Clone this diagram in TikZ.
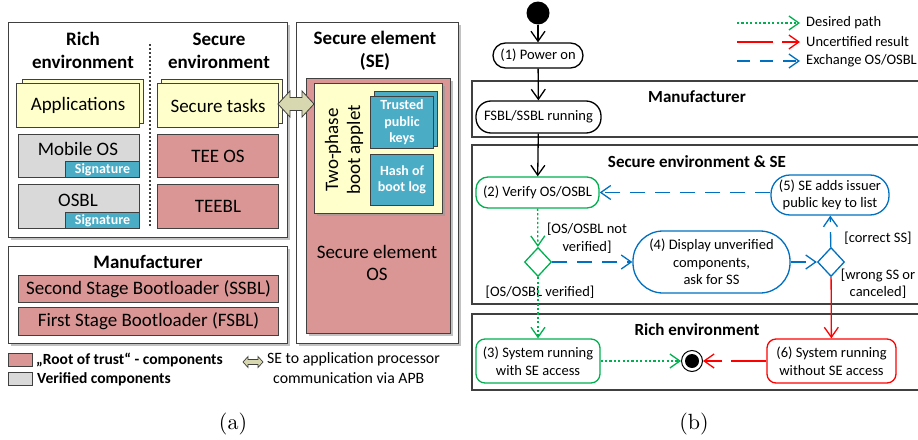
\documentclass[tikz,border=0pt]{standalone}
\usepackage{fontspec}
\setmainfont{Carlito}
\newfontfamily\lmfont[Extension=.otf]{lmroman10-regular}
\usetikzlibrary{arrows.meta,shadows,shapes.geometric}
\definecolor{pinkR}{HTML}{D99694}
\definecolor{tealB}{HTML}{4BACC6}
\definecolor{yel}{HTML}{FFFFCC}
\definecolor{grayV}{HTML}{D9D9D9}
\definecolor{bord}{HTML}{404040}
\definecolor{apb}{HTML}{D8D8B0}
\definecolor{gr}{HTML}{00B050}
\definecolor{rd}{HTML}{FF0000}
\definecolor{bl}{HTML}{0070C0}
\tikzset{
  shd/.style={drop shadow={shadow xshift=2pt,shadow yshift=-2pt,fill=black!40,opacity=0.6}},
  outer/.style={draw=bord,line width=1pt,fill=white,shd,anchor=north west,inner sep=0},
  abox/.style={draw=bord,line width=1pt,anchor=north west,inner sep=0,font=\fontsize{19}{22}\selectfont,align=center},
  yelbox/.style={abox,fill=yel},
  pinkbox/.style={abox,fill=pinkR},
  graybox/.style={abox,fill=grayV},
  tealbox/.style={abox,fill=tealB,text=white,font=\bfseries\fontsize{14}{16.5}\selectfont},
  atitle/.style={font=\bfseries\fontsize{19}{23}\selectfont,align=center},
  atext/.style={font=\fontsize{19}{22}\selectfont,align=center},
  state/.style={draw,line width=1.3pt,align=center,inner sep=0,font=\fontsize{14.5}{17.5}\selectfont},
  lane/.style={draw=bord,line width=1.4pt},
  lanetitle/.style={font=\bfseries\fontsize{17}{20}\selectfont},
  lbl/.style={font=\fontsize{14.5}{17.5}\selectfont,align=center},
  tip/.style={-{Straight Barb[length=10pt,width=14pt]}},
  flow/.style={tip,line width=1.3pt},
  gflow/.style={tip,line width=1.3pt,gr,dash pattern=on 2.2pt off 2.2pt},
  bflow/.style={tip,line width=1.3pt,bl,dash pattern=on 15pt off 10pt},
  rflow/.style={tip,line width=1.3pt,rd},
  rdflow/.style={tip,line width=1.3pt,rd,dash pattern=on 35pt off 9pt},
}
\begin{document}
\begin{tikzpicture}[x=1pt,y=-1pt]
\useasboundingbox (0,0) rectangle (918,439);
% ---------------- panel (a)
\node[outer,minimum width=279,minimum height=215] (richbox) at (8,22) {};
\node[outer,minimum width=279,minimum height=97] (manbox) at (8,246) {};
\node[outer,minimum width=162,minimum height=321] (sebox) at (296,22) {};
\node[atitle] (richt) at (83,50.5) {Rich\\environment};
\node[atitle] (sect) at (219,50.5) {Secure\\environment};
\draw[bord,line width=2pt,dash pattern=on 2pt off 2pt] (150,44) -- (150,227);
\node[yelbox,minimum width=121,minimum height=44] (appsb) at (22,79) {};
\node[yelbox,minimum width=123,minimum height=44] (apps) at (16,83) {Applications};
\node[yelbox,minimum width=121,minimum height=44] (stb) at (161,79) {};
\node[yelbox,minimum width=121,minimum height=44] (st) at (157,83) {Secure tasks};
\node[graybox,minimum width=121,minimum height=43] (mos) at (18,134) {};
\node[atext] (most) at (78,149) {Mobile OS};
\node[tealbox,minimum width=74,minimum height=16,anchor=south east] (sig1) at (mos.south east) {Signature};
\node[graybox,minimum width=121,minimum height=44] (osbl) at (18,184) {};
\node[atext] (osblt) at (78,200) {OSBL};
\node[tealbox,minimum width=74,minimum height=16,anchor=south east] (sig2) at (osbl.south east) {Signature};
\node[pinkbox,minimum width=121,minimum height=43] (teeos) at (157,134) {TEE OS};
\node[pinkbox,minimum width=121,minimum height=44] (teebl) at (157,184) {TEEBL};
\node[atitle] (mant) at (148,262) {Manufacturer};
\node[pinkbox,minimum width=260,minimum height=27] (ssbl) at (18,275) {Second Stage Bootloader (SSBL)};
\node[pinkbox,minimum width=260,minimum height=28] (fsbl) at (18,307) {First Stage Bootloader (FSBL)};
\node[atitle] (set) at (375,50.5) {Secure element\\(SE)};
\node[pinkbox,shd,minimum width=144,minimum height=255] (seos) at (306,78) {};
\node[atext] (seost) at (377,263) {Secure element\\OS};
\node[yelbox,shd,minimum width=128,minimum height=130] (applet) at (314,83) {};
\node[atext,rotate=90] (applett) at (344,150) {Two-phase\\boot applet};
\node[tealbox,minimum width=63,minimum height=55] (tpkb) at (374,91) {};
\node[tealbox,minimum width=63,minimum height=52] (tpk) at (370,96) {Trusted\\public\\keys};
\node[tealbox,minimum width=63,minimum height=51] (hash) at (370,154) {Hash of\\boot log};
% APB arrow
\draw[bord,fill=apb,line width=0.8pt,line join=miter] (278,104) -- (290,91) -- (290,97.5) -- (302,97.5) -- (302,91) -- (314,104) -- (302,117) -- (302,110.5) -- (290,110.5) -- (290,117) -- cycle;
% legend (a)
\node[draw=bord,fill=pinkR,line width=0.8pt,minimum width=24,minimum height=13,inner sep=0,anchor=north west] (lg1) at (8,353) {};
\node[draw=bord,fill=grayV,line width=0.8pt,minimum width=24,minimum height=13,inner sep=0,anchor=north west] (lg2) at (8,372) {};
\node[anchor=west,inner sep=0,font=\bfseries\fontsize{15.5}{18}\selectfont] (lg1t) at (36,360) {„Root of trust“ - components};
\node[anchor=west,inner sep=0,font=\bfseries\fontsize{15.5}{18}\selectfont] (lg2t) at (37,379) {Verified components};
\draw[bord,fill=apb,line width=0.7pt,line join=miter] (243,362) -- (248,356.5) -- (248,359.5) -- (258,359.5) -- (258,356.5) -- (263,362) -- (258,367.5) -- (258,364.5) -- (248,364.5) -- (248,367.5) -- cycle;
\node[anchor=north west,inner sep=0,align=left,font=\fontsize{15.8}{20}\selectfont] (lg3t) at (267,352) {SE to application processor\\\hspace*{6pt}communication via APB};
\node[font=\lmfont\fontsize{22}{24}\selectfont] (la) at (233,424) {(a)};
% ---------------- panel (b)
\draw[lane] (920,81) -| (472,137) -- (920,137);
\draw[lane] (920,145) -| (472,304) -- (920,304);
\draw[lane] (920,314) -| (472,390) -- (920,390);
\node[lanetitle] (l1) at (697,97) {Manufacturer};
\node[lanetitle] (l2) at (697,162) {Secure environment \& SE};
\node[lanetitle] (l3) at (697,330) {Rich environment};
\node[circle,fill=black,minimum size=23,inner sep=0] (start) at (538,13) {};
\node[state,rounded corners=12.5,minimum width=90,minimum height=25] (power) at (538,55.5) {(1) Power on};
\node[state,rounded corners=15,minimum width=125,minimum height=32] (fsblr) at (538.5,117) {FSBL/SSBL running};
\node[state,gr,text=black,rounded corners=12,minimum width=123,minimum height=31] (verify) at (537.5,192.5) {(2) Verify OS/OSBL};
\node[diamond,draw=gr,line width=1.3pt,minimum width=27,minimum height=29,inner sep=0] (d1) at (538,262) {};
\node[state,bl,text=black,rounded corners=30,minimum width=157,minimum height=62] (disp) at (711.5,262) {(4) Display unverified\\components,\\ask for SS};
\node[diamond,draw=bl,line width=1.3pt,minimum width=27,minimum height=29,inner sep=0] (d2) at (831,262) {};
\node[state,bl,text=black,rounded corners=19,minimum width=118,minimum height=40] (seadd) at (830,195) {(5) SE adds issuer\\public key to list};
\node[state,gr,text=black,rounded corners=9,minimum width=124,minimum height=44] (sys3) at (538,361) {(3) System running\\with SE access};
\node[state,rd,text=black,rounded corners=9,minimum width=129,minimum height=44] (sys6) at (831.5,361) {(6) System running\\without SE access};
\node[circle,draw,line width=1pt,minimum size=21,inner sep=0] (endn) at (692,361) {};
\fill (endn.center) circle (7);
\node[lbl] (lnv) at (587,238) {[OS/OSBL not\\verified]};
\node[lbl] (lv) at (540,292) {[OS/OSBL verified]};
\node[lbl] (lc) at (878,238) {[correct SS]};
\node[lbl] (lw) at (878,283.5) {[wrong SS or\\canceled]};
\draw[flow] (start) -- (power);
\draw[flow] (power) -- (fsblr);
\draw[flow] (fsblr) -- (verify);
\draw[gflow] (verify) -- (d1);
\draw[bflow] (d1) -- (disp);
\draw[bflow] (disp) -- (d2);
\draw[bflow] (d2) -- (seadd);
\draw[bflow] (seadd.west |- verify.east) -- (verify.east);
\draw[rflow] (d2) -- (sys6);
\draw[gflow] (d1) -- (sys3);
\draw[gflow] (sys3) -- (endn);
\draw[rdflow] (sys6) -- (endn);
% legend (b)
\coordinate (g1) at (737,23); \coordinate (g2) at (800,23);
\coordinate (r1) at (737,42); \coordinate (r2) at (800,42);
\coordinate (b1) at (737,61); \coordinate (b2) at (800,61);
\draw[gflow] (g1) -- (g2);
\draw[rflow,dash pattern=on 36pt off 9pt] (r1) -- (r2);
\draw[bflow,dash pattern=on 13pt off 10pt] (b1) -- (b2);
\node[anchor=west,inner sep=0,font=\fontsize{14.5}{17}\selectfont] (gt) at (806,23) {Desired path};
\node[anchor=west,inner sep=0,font=\fontsize{14.5}{17}\selectfont] (rt) at (806,42) {Uncertified result};
\node[anchor=west,inner sep=0,font=\fontsize{14.5}{17}\selectfont] (bt) at (806,61) {Exchange OS/OSBL};
\node[font=\lmfont\fontsize{22}{24}\selectfont] (lb) at (694,424) {(b)};
\end{tikzpicture}
\end{document}
